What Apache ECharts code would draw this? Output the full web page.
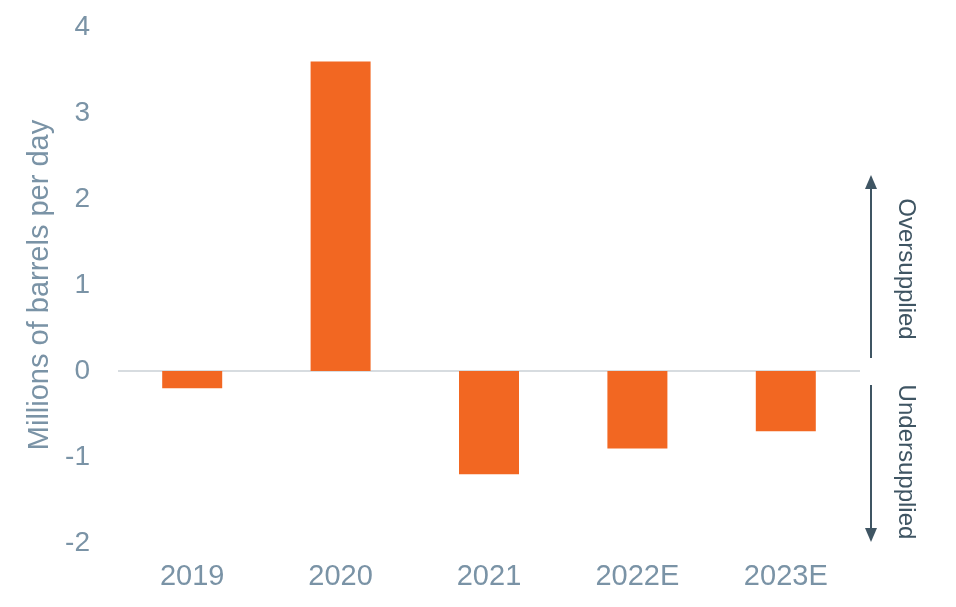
<!DOCTYPE html>
<html>
<head>
<meta charset="utf-8">
<script src="https://cdn.jsdelivr.net/npm/echarts@6/dist/echarts.min.js"></script>
<style>
html,body{margin:0;padding:0;background:#fff;}
#chart{width:956px;height:607px;}
</style>
</head>
<body>
<div id="chart"></div>
<script>
const categories = ['2019', '2020', '2021', '2022E', '2023E'];
const balance = [-0.2, 3.6, -1.2, -0.9, -0.7];
const yTicks = { min: -2, max: 4, interval: 1 };
const yTitle = 'Millions of barrels per day';
const overLabel = 'Oversupplied';
const underLabel = 'Undersupplied';

const FONT = '"Liberation Sans", Arial, Helvetica, sans-serif';
const LABEL = '#7A93A6';
const ARROW = '#3F5563';

const chart = echarts.init(document.getElementById('chart'), null, { renderer: 'canvas' });
chart.setOption({
  animation: false,
  backgroundColor: '#ffffff',
  grid: { left: 118, right: 96, top: 27, bottom: 64, containLabel: false },
  xAxis: {
    type: 'category',
    data: categories,
    axisLine: { show: false },
    axisTick: { show: false },
    axisLabel: { color: LABEL, fontSize: 29, fontFamily: FONT, margin: 19 }
  },
  yAxis: {
    type: 'value',
    min: yTicks.min, max: yTicks.max, interval: yTicks.interval,
    name: yTitle,
    nameLocation: 'middle',
    nameGap: 50,
    nameTextStyle: { color: LABEL, fontSize: 29, fontFamily: FONT },
    axisLine: { show: false },
    axisTick: { show: false },
    splitLine: { show: false },
    axisLabel: { color: LABEL, fontSize: 28, fontFamily: FONT, margin: 28 }
  },
  series: [{
    type: 'bar',
    data: balance,
    barWidth: 60,
    itemStyle: { color: '#F26722' },
    markLine: {
      silent: true,
      symbol: ['none', 'none'],
      label: { show: false },
      lineStyle: { color: '#D7DCE0', width: 2, type: 'solid' },
      data: [{ yAxis: 0 }],
      z: 1
    }
  }],
  graphic: [
    { type: 'line', shape: { x1: 871, y1: 358, x2: 871, y2: 186 }, style: { stroke: ARROW, lineWidth: 2 } },
    { type: 'polygon', shape: { points: [[871, 175], [865, 189], [877, 189]] }, style: { fill: ARROW } },
    { type: 'line', shape: { x1: 871, y1: 385, x2: 871, y2: 531 }, style: { stroke: ARROW, lineWidth: 2 } },
    { type: 'polygon', shape: { points: [[871, 542], [865, 528], [877, 528]] }, style: { fill: ARROW } },
    { type: 'text', x: 906, y: 269, rotation: -Math.PI / 2,
      style: { text: overLabel, fill: ARROW, font: '24px ' + FONT, align: 'center', verticalAlign: 'middle' } },
    { type: 'text', x: 906, y: 462, rotation: -Math.PI / 2,
      style: { text: underLabel, fill: ARROW, font: '24px ' + FONT, align: 'center', verticalAlign: 'middle' } }
  ]
});
</script>
</body>
</html>
